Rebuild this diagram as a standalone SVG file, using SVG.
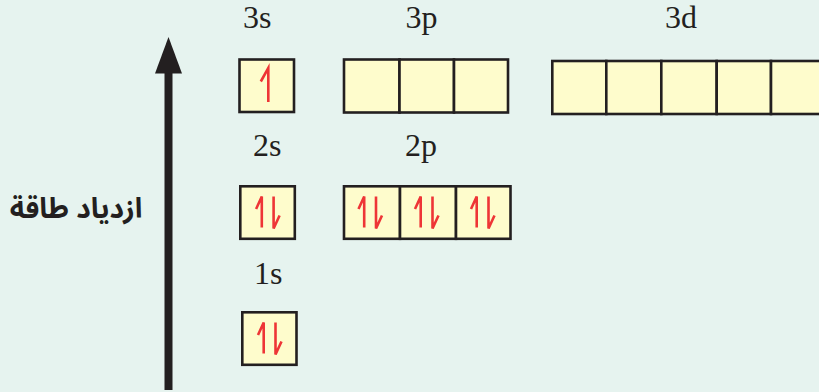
<svg xmlns="http://www.w3.org/2000/svg" width="819" height="392" viewBox="0 0 819 392">
<style>
.bg{fill:#e6f3ef}
.box{fill:#fefccc;stroke:#231f20;stroke-width:2.6}
.lbl{font-family:"Liberation Serif",serif;font-size:32px;fill:#231f20}
.e{fill:none;stroke:#ee3536;stroke-width:2.6;stroke-linecap:butt;stroke-linejoin:miter}
.ar{font-family:"Noto Sans Arabic","Noto Naskh Arabic","DejaVu Sans",sans-serif;font-weight:bold;font-size:28px;fill:#231f20}
</style>
<defs>
<path id="pair" class="e" d="M-5.8,15 V-16 L-11.5,-3.5 M6,-16 V16 L12,3"/>
<path id="up1" class="e" d="M0,16.5 V-17.5 L-7.5,-4"/>
</defs>
<rect class="bg" x="0" y="0" width="819" height="392"/>

<g id="connectors">
<rect x="164.5" y="72" width="8" height="318" fill="#231f20"/>
<polygon points="168.5,37 155,73.5 182,73.5" fill="#231f20"/>
</g>

<g id="energy-label"><text class="ar" x="76" y="218" text-anchor="middle">ازدياد طاقة</text></g>

<g id="orb-3s">
<text class="lbl" x="243" y="28">3s</text>
<rect class="box" x="239.5" y="59.5" width="54.5" height="52.5"/>
<use href="#up1" transform="translate(268.3,85.5)"/>
</g>
<g id="orb-3p">
<text class="lbl" x="405.5" y="28">3p</text>
<rect class="box" x="344" y="59.5" width="55.5" height="53"/>
<rect class="box" x="399.5" y="59.5" width="54.5" height="53"/>
<rect class="box" x="454" y="59.5" width="54" height="53"/>
</g>
<g id="orb-3d">
<text class="lbl" x="665" y="28">3d</text>
<rect class="box" x="552.3" y="61" width="54" height="53"/>
<rect class="box" x="606.3" y="61" width="55" height="53"/>
<rect class="box" x="661.3" y="61" width="55.4" height="53"/>
<rect class="box" x="716.7" y="61" width="54.3" height="53"/>
<rect class="box" x="771" y="61" width="55" height="53"/>
</g>
<g id="orb-2s">
<text class="lbl" x="253" y="156">2s</text>
<rect class="box" x="240.3" y="186.3" width="54.5" height="52.5"/>
<use href="#pair" transform="translate(267.6,212.5)"/>
</g>
<g id="orb-2p">
<text class="lbl" x="405" y="156">2p</text>
<rect class="box" x="344" y="186.3" width="56" height="52.5"/>
<rect class="box" x="400" y="186.3" width="56" height="52.5"/>
<rect class="box" x="456" y="186.3" width="54.5" height="52.5"/>
<use href="#pair" transform="translate(370,212.5)"/>
<use href="#pair" transform="translate(426.5,212.5)"/>
<use href="#pair" transform="translate(482.5,212.5)"/>
</g>
<g id="orb-1s">
<text class="lbl" x="254" y="284">1s</text>
<rect class="box" x="242.3" y="312.3" width="54.2" height="52.5"/>
<use href="#pair" transform="translate(269.5,338.5)"/>
</g>
</svg>
